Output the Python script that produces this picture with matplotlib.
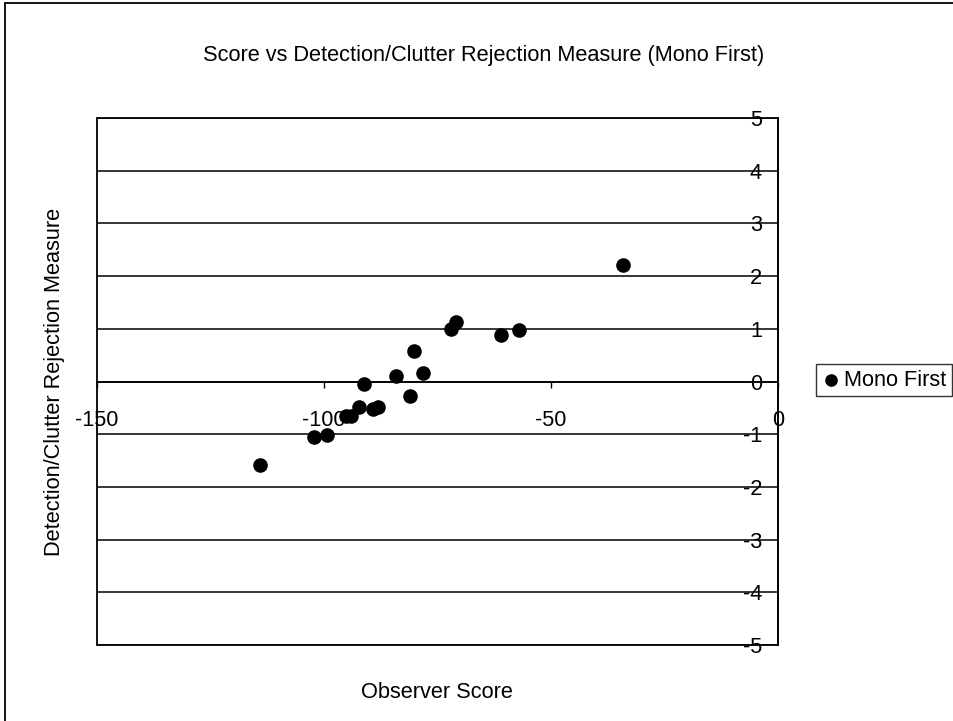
import matplotlib
matplotlib.use("Agg")
import matplotlib.pyplot as plt
from matplotlib.patches import Rectangle

# values
observer_score = [-114.2, -102.2, -99.3, -95.2, -94.1, -92.3, -91.2, -89.1, -88.2,
                  -84.1, -81.1, -80.2, -78.1, -72.0, -70.9, -61.1, -57.0, -34.1]
rejection_measure = [-1.58, -1.05, -1.01, -0.65, -0.65, -0.48, -0.05, -0.52, -0.48,
                     0.11, -0.27, 0.58, 0.16, 0.99, 1.13, 0.88, 0.98, 2.22]

x_ticks = [-150, -100, -50, 0]
y_ticks = [-5, -4, -3, -2, -1, 0, 1, 2, 3, 4, 5]
series_name = "Mono First"
title = "Score vs Detection/Clutter Rejection Measure (Mono First)"
x_label = "Observer Score"
y_label = "Detection/Clutter Rejection Measure"

FONT_SIZE = 15.7
plt.rcParams["font.family"] = ["Liberation Sans", "DejaVu Sans"]
plt.rcParams["font.size"] = FONT_SIZE
plt.rcParams["axes.unicode_minus"] = False  # plain hyphens, as in the original

W, H = 954, 721
fig = plt.figure(figsize=(W / 100, H / 100), dpi=100)
fig.patch.set_facecolor("white")

# outer border of the chart (only top and left edges fall inside the picture)
fig.patches.append(Rectangle((5 / W, -0.02), 1.0, 1.02 - 3 / H, transform=fig.transFigure,
                             fill=False, edgecolor="black", linewidth=1.3))

ax = fig.add_axes([97 / W, 1 - 645 / H, 681 / W, 527 / H])
ax.set_xlim(-150, 0)
ax.set_ylim(-5, 5)

# axes cross at (0, 0), like the original spreadsheet chart
ax.spines["left"].set_position(("data", 0))
ax.spines["bottom"].set_position(("data", 0))
ax.spines["top"].set_visible(False)
ax.spines["right"].set_visible(False)
for s in ("left", "bottom"):
    ax.spines[s].set_linewidth(1.2)
ax.patch.set_edgecolor("black")
ax.patch.set_linewidth(1.3)

ax.set_xticks(x_ticks)
ax.set_yticks(y_ticks)
ax.tick_params(axis="x", direction="out", length=4, width=1, pad=16.5, labelsize=FONT_SIZE)
ax.tick_params(axis="y", length=0, pad=11.5, labelsize=FONT_SIZE)
ax.yaxis.grid(True, color="black", linewidth=1.1)
ax.set_axisbelow(True)

ax.scatter(observer_score, rejection_measure, s=90, color="black", zorder=3, label=series_name)

fig.text(484 / W, 1 - 55 / H, title, ha="center", va="center", fontsize=FONT_SIZE)
fig.text(437 / W, 1 - 693 / H, x_label, ha="center", va="center", fontsize=FONT_SIZE)
fig.text(55 / W, 1 - 382 / H, y_label, ha="center", va="center", rotation=90, fontsize=FONT_SIZE)

leg = fig.legend(loc="center left", bbox_to_anchor=(816 / W, 1 - 380 / H), frameon=True,
                 fancybox=False, borderpad=0.25, handletextpad=0.15, handlelength=0.9,
                 borderaxespad=0, markerscale=0.85, fontsize=FONT_SIZE)
leg.get_frame().set_edgecolor("black")
leg.get_frame().set_linewidth(1.0)

fig.savefig("out.png", dpi=100)
